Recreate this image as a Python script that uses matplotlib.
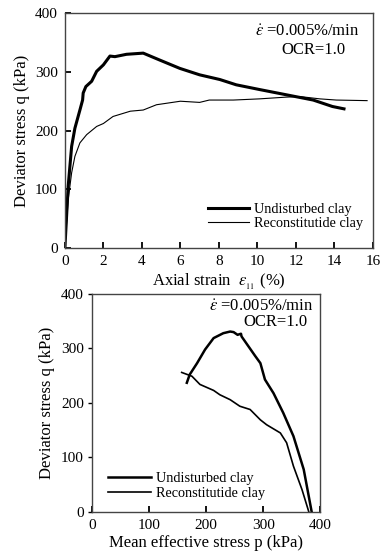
import matplotlib
matplotlib.use('Agg')
import matplotlib.pyplot as plt

plt.rcParams['font.family'] = ['Liberation Serif', 'DejaVu Serif']
plt.rcParams['mathtext.fontset'] = 'stix'

# q vs axial strain
und_strain = [0, 0.17, 0.35, 0.52, 0.78, 0.92, 0.95, 1.09, 1.39, 1.65, 2.0, 2.34, 2.6, 3.2,
              4.07, 4.94, 5.97, 7.0, 8.05, 8.9, 10.1, 11.5, 12.9, 13.9, 14.5]
und_q = [0, 105, 173, 204, 235, 252, 264, 275, 284, 301, 312, 327, 326, 330,
         332, 320, 306, 295, 287, 278, 270, 261, 252, 241, 237]
rec_strain = [0, 0.17, 0.35, 0.52, 0.78, 1.13, 1.65, 2.0, 2.5, 3.4, 4.07, 4.76, 6.0, 7.0,
              7.5, 8.75, 10.1, 11.5, 12.2, 13.25, 14.1, 15.7]
rec_q = [0, 82, 128, 156, 179, 193, 207, 212, 224, 233, 235, 244, 250, 248,
         252, 252, 254, 257, 258, 254, 252, 251]

# stress paths
und_p = [385, 371, 353, 335, 318, 303, 295, 286, 274, 262, 261, 255, 248, 242, 230,
         213, 198, 184, 171, 166]
und_pq = [0, 78, 139, 182, 218, 243, 273, 286, 304, 322, 327, 325, 330, 331, 328,
          319, 298, 273, 252, 237]
rec_p = [380, 368, 353, 341, 330, 306, 295, 277, 259, 242, 224, 213, 189, 175, 157]
rec_pq = [0, 41, 84, 127, 145, 160, 169, 188, 194, 206, 215, 223, 234, 249, 256]

fig = plt.figure(figsize=(3.84, 5.52), dpi=100)
ax1 = fig.add_axes([0.169, 0.551, 0.802, 0.425])
ax2 = fig.add_axes([0.240, 0.0725, 0.594, 0.395])

ax1.plot(und_strain, und_q, color='black', lw=2.2, label='Undisturbed clay')
ax1.plot(rec_strain, rec_q, color='black', lw=0.8, label='Reconstitutide clay')
ax1.set_xlim(0, 16)
ax1.set_ylim(0, 400)
ax1.set_xticks(range(0, 17, 2))
ax1.set_yticks(range(0, 401, 100))
ax1.set_xlabel(r'Axial strain  $\varepsilon_{_{11}}$ (%)', fontsize=12, labelpad=3)
ax1.set_ylabel('Deviator stress q (kPa)', fontsize=12, labelpad=4)
ax1.text(0.955, 0.919, r'$\dot{\varepsilon}$ =0.005%/min', transform=ax1.transAxes,
         ha='right', va='center', fontsize=12)
ax1.text(0.912, 0.843, 'OCR=1.0', transform=ax1.transAxes, ha='right', va='center',
         fontsize=12)
ax1.legend(loc='center left', bbox_to_anchor=(0.464, 0.134), frameon=False, fontsize=10.3,
           handlelength=2.9, handletextpad=0.35, labelspacing=0.1, borderpad=0,
           borderaxespad=0)

ax2.plot(und_p, und_pq, color='black', lw=1.8, label='Undisturbed clay')
ax2.plot(rec_p, rec_pq, color='black', lw=1.2, label='Reconstitutide clay')
ax2.set_xlim(0, 400)
ax2.set_ylim(0, 400)
ax2.set_xticks(range(0, 401, 100))
ax2.set_yticks(range(0, 401, 100))
ax2.set_xlabel('Mean effective stress p (kPa)', fontsize=12, labelpad=2)
ax2.set_ylabel('Deviator stress q (kPa)', fontsize=12, labelpad=4)
ax2.text(0.969, 0.94, r'$\dot{\varepsilon}$ =0.005%/min', transform=ax2.transAxes,
         ha='right', va='center', fontsize=12)
ax2.text(0.943, 0.87, 'OCR=1.0', transform=ax2.transAxes, ha='right', va='center',
         fontsize=12)
ax2.legend(loc='center left', bbox_to_anchor=(0.07, 0.119), frameon=False, fontsize=10.3,
           handlelength=3.0, handletextpad=0.35, labelspacing=0.1, borderpad=0,
           borderaxespad=0)

for ax in (ax1, ax2):
    for s in ax.spines.values():
        s.set_color('#444444')
        s.set_linewidth(1.0)
    ax.tick_params(direction='in', length=4, width=1.3, labelsize=11, pad=5,
                   color='black', top=False, right=False)

# bottom panel y ticks point outward
ax2.tick_params(axis='y', direction='out', length=3, width=1.0, pad=3)

fig.savefig('out.png', dpi=100)
